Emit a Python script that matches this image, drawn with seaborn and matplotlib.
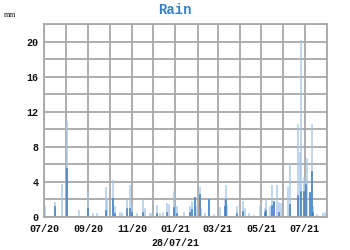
import matplotlib
matplotlib.use("Agg")
import matplotlib.pyplot as plt
import matplotlib.dates as mdates
import seaborn as sns
import pandas as pd
import numpy as np

# ---- data ----
light_dates = [
    "2020-07-02", "2020-07-16", "2020-07-26", "2020-08-02", "2020-08-18", "2020-08-31",
    "2020-09-07", "2020-09-12", "2020-09-25", "2020-09-27", "2020-10-05", "2020-10-08",
    "2020-10-14", "2020-10-18", "2020-10-25", "2020-10-28", "2020-11-01", "2020-11-08",
    "2020-11-16", "2020-11-19", "2020-11-25", "2020-11-29", "2020-12-06", "2020-12-10",
    "2020-12-14", "2020-12-20", "2020-12-22", "2020-12-29", "2020-12-31", "2021-01-03",
    "2021-01-12", "2021-01-21", "2021-01-24", "2021-01-28", "2021-01-31", "2021-02-03",
    "2021-02-05", "2021-02-10", "2021-02-16", "2021-02-23", "2021-03-03", "2021-03-10",
    "2021-03-12", "2021-03-14", "2021-03-27", "2021-04-05", "2021-04-08", "2021-04-13",
    "2021-04-20", "2021-04-29", "2021-05-05", "2021-05-07", "2021-05-13", "2021-05-16",
    "2021-05-18", "2021-05-22", "2021-05-25", "2021-05-28", "2021-06-07", "2021-06-09",
    "2021-06-21", "2021-06-23", "2021-06-25", "2021-06-29", "2021-07-02", "2021-07-04",
    "2021-07-08", "2021-07-10", "2021-07-12", "2021-07-17", "2021-07-26", "2021-07-28",
]
light_values = [
    1.25, 1.75, 3.8, 11.0, 0.8, 3.0,
    0.4, 0.4, 3.4, 2.2, 4.2, 1.2,
    0.6, 0.5, 2.1, 3.7, 1.5, 0.5,
    2.1, 1.0, 0.4, 0.5, 1.4, 0.5,
    0.6, 1.6, 1.5, 3.0, 1.1, 1.2,
    0.6, 1.3, 1.8, 2.3, 1.2, 3.45,
    1.0, 0.5, 2.2, 0.3, 1.1, 2.0,
    3.7, 1.4, 1.3, 1.8, 1.0, 0.4,
    0.2, 1.3, 1.0, 2.0, 1.3, 3.7,
    1.8, 3.7, 1.7, 1.6, 3.45, 6.1,
    10.6, 7.4, 20.2, 4.6, 4.0, 6.7,
    2.8, 10.6, 1.2, 0.3, 0.5, 0.6,
]
dark_dates = [
    "2020-07-16", "2020-08-02", "2020-08-31", "2020-09-25", "2020-10-05", "2020-10-08",
    "2020-10-25", "2020-10-28", "2020-11-01", "2020-11-16", "2020-12-06", "2020-12-20",
    "2020-12-29", "2021-01-03", "2021-01-21", "2021-01-24", "2021-01-28", "2021-02-03",
    "2021-02-16", "2021-03-10", "2021-03-12", "2021-03-27", "2021-04-05", "2021-05-05",
    "2021-05-07", "2021-05-16", "2021-05-18", "2021-05-25", "2021-06-09", "2021-06-21",
    "2021-06-25", "2021-06-29", "2021-07-02", "2021-07-08", "2021-07-10", "2021-07-12",
]
dark_values = [
    1.2, 5.6, 1.0, 0.8, 2.2, 0.5,
    1.0, 1.0, 0.6, 0.6, 0.5, 0.6,
    1.1, 0.5, 0.6, 0.9, 2.3, 2.6,
    2.0, 1.2, 2.0, 0.5, 0.7, 0.6,
    0.8, 1.4, 1.8, 0.6, 1.5, 2.5,
    3.0, 3.0, 3.8, 2.8, 5.2, 0.6,
]
y_ticks = [0, 4, 8, 12, 16, 20]
title = "Rain"
unit_label = "mm"
date_label = "28/07/21"

# ---- frames ----
light = pd.DataFrame({"x": mdates.date2num(pd.to_datetime(light_dates)), "y": light_values})
dark = pd.DataFrame({"x": mdates.date2num(pd.to_datetime(dark_dates)), "y": dark_values})

xmin = mdates.date2num(pd.Timestamp("2020-07-01"))
xmax = mdates.date2num(pd.Timestamp("2021-08-01"))

sns.set_theme(style="white")
mono = ["Liberation Mono", "DejaVu Sans Mono"]

fig = plt.figure(figsize=(3.5, 2.5), dpi=100)
ax = fig.add_axes([44 / 350, 1 - 217 / 250, (327 - 44) / 350, (217 - 24) / 250])

sns.histplot(data=light, x="x", weights="y", binwidth=1.4, binrange=(xmin, xmax),
             color="#a6c6e6", edgecolor="#a6c6e6", alpha=0.6, linewidth=0.4,
             stat="count", ax=ax)
sns.histplot(data=dark, x="x", weights="y", binwidth=1.4, binrange=(xmin, xmax),
             color="#3a7cbe", edgecolor="#3a7cbe", alpha=0.8, linewidth=0.4,
             stat="count", ax=ax)

ax.set_xlim(xmin, xmax)
ax.set_ylim(0, 22)

ax.xaxis.set_major_locator(mdates.MonthLocator(bymonth=[1, 3, 5, 7, 9, 11]))
ax.xaxis.set_minor_locator(mdates.MonthLocator())
ax.xaxis.set_major_formatter(mdates.DateFormatter("%m/%y"))
ax.set_yticks(y_ticks)
ax.set_yticks(np.arange(0, 23, 2), minor=True)

ax.grid(True, which="both", axis="both", color="#a8a8a8", linewidth=1.3)
ax.set_axisbelow(True)
for s in ax.spines.values():
    s.set_color("#a8a8a8")
    s.set_linewidth(1.3)

ax.tick_params(axis="both", which="both", length=0)
ax.tick_params(axis="x", pad=5)
ax.tick_params(axis="y", pad=4)
for lab in ax.get_xticklabels() + ax.get_yticklabels():
    lab.set_fontfamily(mono)
    lab.set_fontweight("bold")
    lab.set_fontsize(7.2)
    lab.set_color("#111111")
ax.set_xlabel("")
ax.set_ylabel("")

fig.text(175 / 350, 1 - 10 / 250, title, ha="center", va="center", fontsize=10,
         fontweight="bold", color="#3a7fc4", family=mono)
fig.text(4 / 350, 1 - 15 / 250, unit_label, ha="left", va="center", fontsize=5.5,
         color="#111111", family=["Liberation Serif", "DejaVu Serif"])
fig.text(175 / 350, 1 - 243 / 250, date_label, ha="center", va="center", fontsize=7.2,
         fontweight="bold", color="#111111", family=mono)

fig.savefig("out.png", dpi=100)
